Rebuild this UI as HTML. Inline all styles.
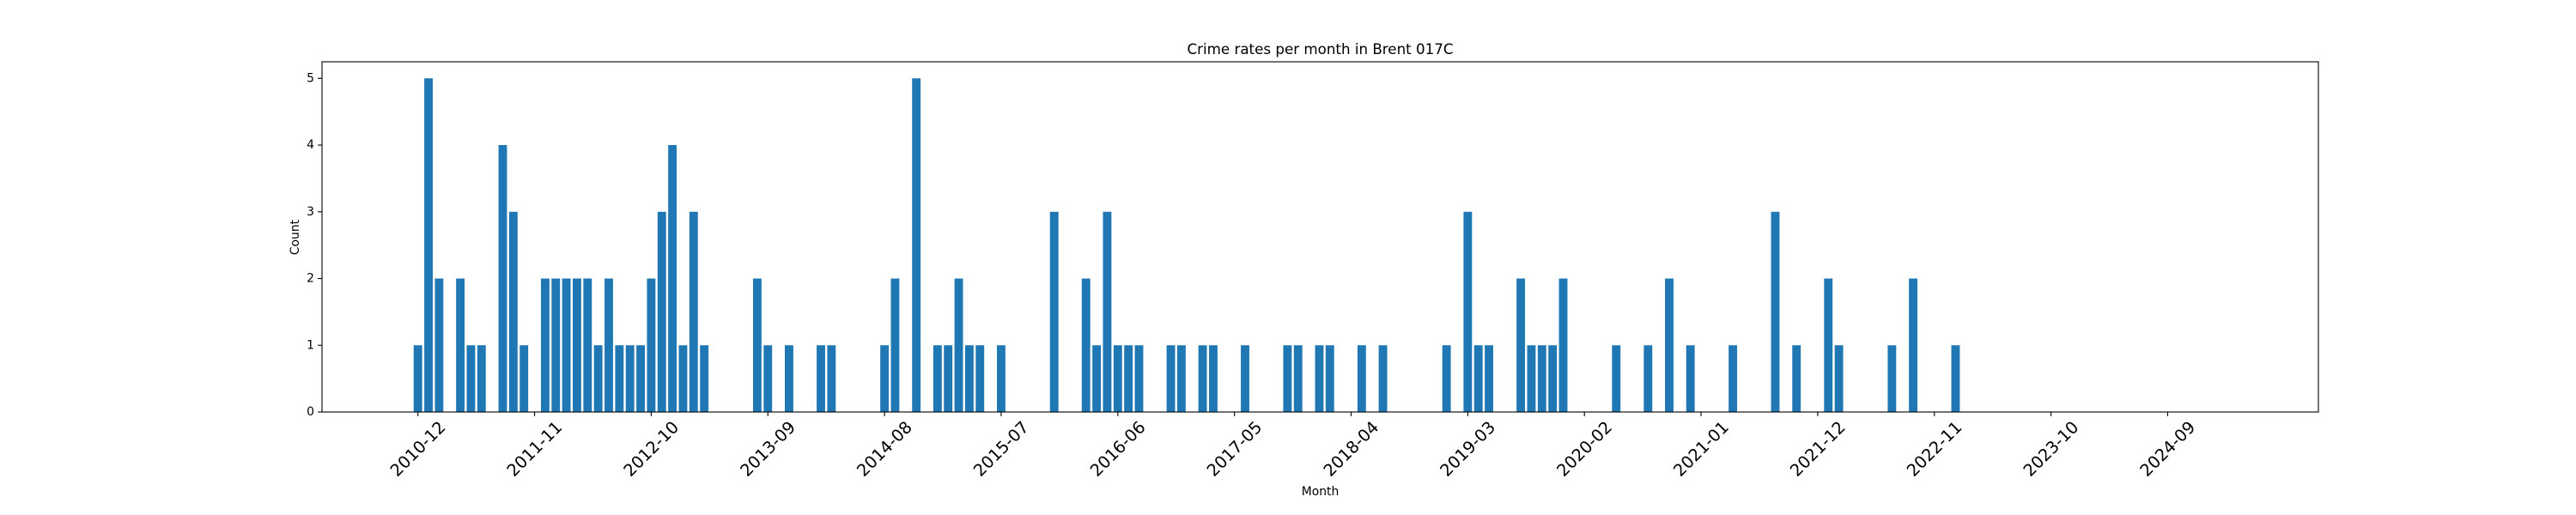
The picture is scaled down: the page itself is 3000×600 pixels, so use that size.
<!DOCTYPE html>
<html>
<head>
<meta charset="utf-8">
<style>
  html, body { margin: 0; padding: 0; background: #fff; }
  svg { display: block; font-family: "DejaVu Sans", "Liberation Sans", sans-serif; }
</style>
</head>
<body>
<svg id="chart" width="3000" height="600" viewBox="0 0 3000 600" xmlns="http://www.w3.org/2000/svg">
  <rect x="0" y="0" width="3000" height="600" fill="#ffffff"/>
  <text x="1537.5" y="63" text-anchor="middle" font-size="16.7" fill="#000">Crime rates per month in Brent 017C</text>
  <text x="1537.5" y="577" text-anchor="middle" font-size="13.9" fill="#000">Month</text>
  <text transform="translate(348,276.5) rotate(-90)" text-anchor="middle" font-size="13.9" fill="#000">Count</text>
  <g id="bars"></g>
  <g id="xticks"></g>
  <g id="yticks"></g>
  <rect x="375" y="72" width="2325" height="408" fill="none" stroke="#000" stroke-width="1.1"/>
</svg>
<script>
// Data: months with non-zero counts, and their counts
const months = ["2010-12","2011-01","2011-02","2011-04","2011-05","2011-06","2011-08","2011-09","2011-10",
  "2011-12","2012-01","2012-02","2012-03","2012-04","2012-05","2012-06","2012-07","2012-08","2012-09","2012-10","2012-11","2012-12","2013-01","2013-02","2013-03",
  "2013-08","2013-09","2013-11","2014-02","2014-03",
  "2014-08","2014-09","2014-11","2015-01","2015-02","2015-03","2015-04","2015-05","2015-07",
  "2015-12","2016-03","2016-04","2016-05","2016-06","2016-07","2016-08","2016-11","2016-12",
  "2017-02","2017-03","2017-06","2017-10","2017-11","2018-01","2018-02","2018-05","2018-07",
  "2019-01","2019-03","2019-04","2019-05","2019-08","2019-09","2019-10","2019-11","2019-12",
  "2020-05","2020-08","2020-10","2020-12","2021-04","2021-08","2021-10","2022-01","2022-02",
  "2022-07","2022-09","2023-01"];
const counts = [1,5,2,2,1,1,4,3,1,
  2,2,2,2,2,1,2,1,1,1,2,3,4,1,3,1,
  2,1,1,1,1,
  1,2,5,1,1,2,1,1,1,
  3,2,1,3,1,1,1,1,1,
  1,1,1,1,1,1,1,1,1,
  1,3,1,1,2,1,1,1,2,
  1,1,2,1,1,3,1,2,1,
  1,2,1];
const tickLabels = ["2010-12","2011-11","2012-10","2013-09","2014-08","2015-07","2016-06","2017-05","2018-04","2019-03","2020-02","2021-01","2021-12","2022-11","2023-10","2024-09"];
const yTicks = [0,1,2,3,4,5];

const NS = "http://www.w3.org/2000/svg";
const X0 = 486.7, STEP = 12.35, Y0 = 480, YUNIT = 77.75;
function monthIndex(m) {
  const [y, mo] = m.split("-").map(Number);
  return (y - 2010) * 12 + (mo - 12);
}
function xScale(m) { return X0 + monthIndex(m) * STEP; }
function yScale(v) { return Y0 - v * YUNIT; }

const barsG = document.getElementById("bars");
const bw = STEP * 0.8;
months.forEach((m, i) => {
  const r = document.createElementNS(NS, "rect");
  const x = xScale(m), y = yScale(counts[i]);
  r.setAttribute("x", x - bw / 2);
  r.setAttribute("y", y);
  r.setAttribute("width", bw);
  r.setAttribute("height", Y0 - y);
  r.setAttribute("fill", "#1f77b4");
  
  
  barsG.appendChild(r);
});

const xt = document.getElementById("xticks");
tickLabels.forEach(lbl => {
  const x = xScale(lbl);
  const l = document.createElementNS(NS, "line");
  l.setAttribute("x1", x); l.setAttribute("x2", x);
  l.setAttribute("y1", Y0); l.setAttribute("y2", Y0 + 4.9);
  l.setAttribute("stroke", "#000"); l.setAttribute("stroke-width", "1.1");
  
  
  xt.appendChild(l);
  const t = document.createElementNS(NS, "text");
  t.setAttribute("transform", "translate(" + x + ",523) rotate(-45)");
  t.setAttribute("text-anchor", "middle");
  t.setAttribute("dominant-baseline", "central");
  t.setAttribute("font-size", "19.4");
  t.textContent = lbl;
  
  
  xt.appendChild(t);
});

const yt = document.getElementById("yticks");
yTicks.forEach(v => {
  const y = yScale(v);
  const l = document.createElementNS(NS, "line");
  l.setAttribute("x1", 370.1); l.setAttribute("x2", 375);
  l.setAttribute("y1", y); l.setAttribute("y2", y);
  l.setAttribute("stroke", "#000"); l.setAttribute("stroke-width", "1.1");
  
  
  yt.appendChild(l);
  const t = document.createElementNS(NS, "text");
  t.setAttribute("x", 366);
  t.setAttribute("y", y);
  t.setAttribute("text-anchor", "end");
  t.setAttribute("dominant-baseline", "central");
  t.setAttribute("font-size", "13.9");
  t.textContent = String(v);
  
  
  yt.appendChild(t);
});
</script>
</body>
</html>
